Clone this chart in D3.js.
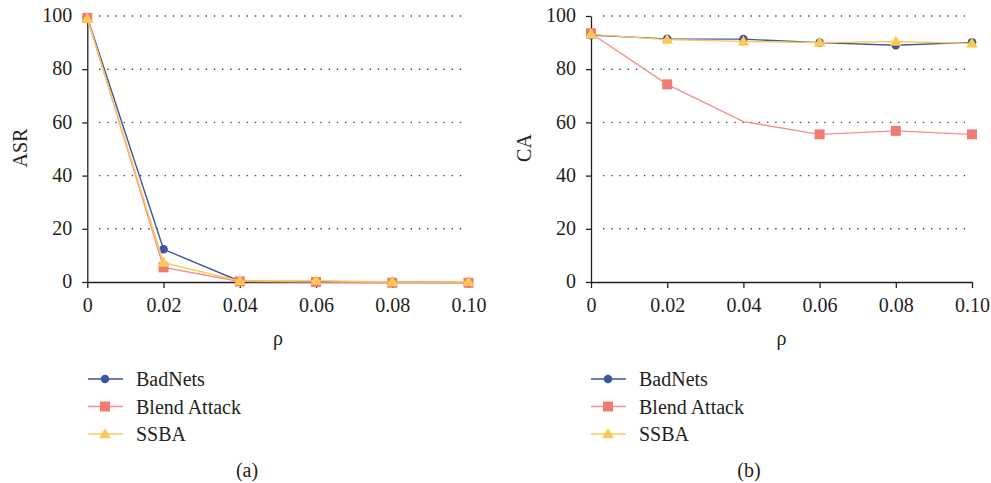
<!DOCTYPE html>
<html>
<head>
<meta charset="utf-8">
<script src="https://cdn.jsdelivr.net/npm/d3@7"></script>
<style>
  body { margin: 0; background: #fff; }
  svg text { font-family: "Liberation Serif", "DejaVu Serif", serif; fill: #231f20; }
</style>
</head>
<body>
<div id="chart"></div>
<script>
// rho values on the x axis
var rho = [0, 0.02, 0.04, 0.06, 0.08, 0.10];
var rhoLabels = ["0", "0.02", "0.04", "0.06", "0.08", "0.10"];
var yTicks = [0, 20, 40, 60, 80, 100];

var seriesNames = ["BadNets", "Blend Attack", "SSBA"];
var seriesColors = ["#3c55a5", "#f07a74", "#fdc955"];
var seriesLineColors = ["#3c55a5", "#f4908b", "#fdc955"];
var seriesShapes = ["circle", "square", "triangle"];

// (a) attack success rate
var asrBadNets = [99.5, 12.3, 0.3, 0.1, 0.1, 0.1];
var asrBlend = [99.3, 5.5, 0.2, 0.0, -0.3, -0.3];
var asrSSBA = [99.0, 7.3, 0.4, 0.5, 0.0, 0.1];

// (b) clean accuracy
var caBadNets = [92.8, 91.4, 91.3, 90.0, 89.0, 90.1];
var caBlend = [93.5, 74.3, 60.3, 55.5, 56.8, 55.5];
var caSSBA = [93.1, 91.1, 90.4, 90.0, 90.4, 89.7];

// marker missing in the original at Blend Attack, rho = 0.04, panel (b)
var hiddenMarks = [{ panel: 1, series: 1, index: 2 }];

var panels = [
  { title: "ASR", caption: "(a)", data: [asrBadNets, asrBlend, asrSSBA],
    x0: 87.3, x1: 468.5, gridX0: 99, gridX1: 462, yLabelX: 20, legendX: 88, captionX: 247 },
  { title: "CA", caption: "(b)", data: [caBadNets, caBlend, caSSBA],
    x0: 591, x1: 972, gridX0: 603, gridX1: 965, yLabelX: 524, legendX: 591, captionX: 749 }
];

var svg = d3.select("#chart").append("svg")
  .attr("width", 991)
  .attr("height", 483);

function drawMarker(g, shape, x, y, color) {
  if (shape === "circle") {
    g.append("circle").attr("cx", x).attr("cy", y).attr("r", 4.3).attr("fill", color);
  } else if (shape === "square") {
    g.append("rect").attr("x", x - 5).attr("y", y - 5)
      .attr("width", 10).attr("height", 10).attr("fill", color);
  } else {
    g.append("path")
      .attr("d", d3.symbol().type(d3.symbolTriangle).size(60)())
      .attr("transform", "translate(" + x + "," + (y + 0.8) + ")")
      .attr("fill", color);
  }
}

panels.forEach(function (p, pi) {
  var x = d3.scaleLinear().domain([0, 0.10]).range([p.x0, p.x1]);
  var y = d3.scaleLinear().domain([0, 100]).range([282, 16]);
  var g = svg.append("g");

  // dotted grid
  g.selectAll(".grid").data(yTicks.slice(1)).enter().append("line")
    .attr("x1", p.gridX0).attr("x2", p.gridX1)
    .attr("y1", function (d) { return y(d); })
    .attr("y2", function (d) { return y(d); })
    .attr("stroke", "#444")
    .attr("stroke-width", 1.4)
    .attr("stroke-dasharray", "1.4,6.8");

  // axes
  var yAxis = g.append("g")
    .attr("transform", "translate(" + p.x0 + ",0)")
    .call(d3.axisLeft(y).tickValues(yTicks).tickSize(5).tickSizeOuter(0).tickPadding(10));
  var xAxis = g.append("g")
    .attr("transform", "translate(0,282)")
    .call(d3.axisBottom(x).tickValues(rho).tickSize(6).tickSizeOuter(0).tickPadding(10)
      .tickFormat(function (d, i) { return rhoLabels[i]; }));
  [yAxis, xAxis].forEach(function (a) {
    a.selectAll("path, line").attr("stroke", "#231f20").attr("stroke-width", 1.3);
    a.selectAll("text").style("font-size", "20px")
      .style("font-family", "Liberation Serif, serif").attr("fill", "#231f20");
  });
  yAxis.selectAll("text").attr("dy", "0.28em");

  // axis titles
  g.append("text")
    .attr("transform", "translate(" + (p.yLabelX + 7) + ",148) rotate(-90)")
    .attr("text-anchor", "middle")
    .style("font-size", "20px")
    .text(p.title);
  g.append("text")
    .attr("x", (p.x0 + p.x1) / 2).attr("y", 345)
    .attr("text-anchor", "middle")
    .style("font-size", "20px")
    .text("\u03c1");

  // series
  var line = d3.line()
    .x(function (d, i) { return x(rho[i]); })
    .y(function (d) { return y(d); });
  p.data.forEach(function (vals, si) {
    g.append("path")
      .attr("d", line(vals))
      .attr("fill", "none")
      .attr("stroke", seriesLineColors[si])
      .attr("stroke-width", 1.4);
    vals.forEach(function (v, i) {
      var hidden = hiddenMarks.some(function (h) {
        return h.panel === pi && h.series === si && h.index === i;
      });
      if (!hidden) {
        drawMarker(g, seriesShapes[si], x(rho[i]), y(v), seriesColors[si]);
      }
    });
  });

  // legend
  seriesNames.forEach(function (name, si) {
    var ly = 379 + si * 27.5;
    g.append("line")
      .attr("x1", p.legendX).attr("x2", p.legendX + 35)
      .attr("y1", ly).attr("y2", ly)
      .attr("stroke", seriesLineColors[si]).attr("stroke-width", 1.4);
    drawMarker(g, seriesShapes[si], p.legendX + 17, ly, seriesColors[si]);
    g.append("text")
      .attr("x", p.legendX + 48).attr("y", ly + 7)
      .style("font-size", "20px")
      .text(name);
  });

  g.append("text")
    .attr("x", p.captionX).attr("y", 477)
    .attr("text-anchor", "middle")
    .style("font-size", "20px")
    .text(p.caption);
});
</script>
</body>
</html>
